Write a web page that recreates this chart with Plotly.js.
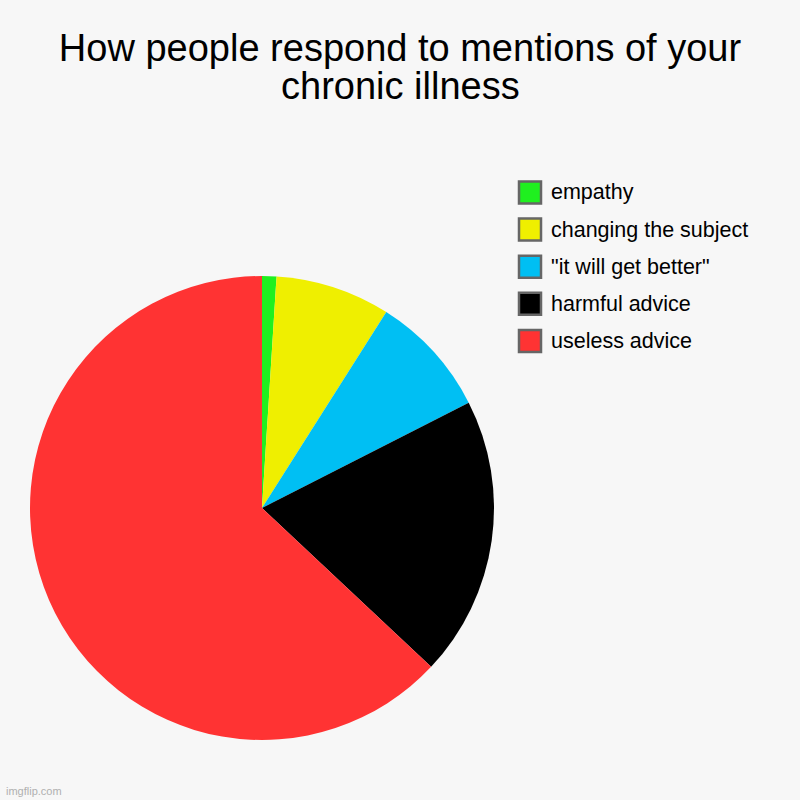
<!DOCTYPE html>
<html>
<head>
<meta charset="utf-8">
<script src="https://cdn.plot.ly/plotly-3.0.1.min.js"></script>
<style>html,body{margin:0;padding:0;background:#f7f7f7;}</style>
</head>
<body>
<div id="chart" style="width:800px;height:800px;"></div>
<script>
const labels = ['empathy', 'changing the subject', '"it will get better"', 'harmful advice', 'useless advice'];
const values = [1, 8, 8.5, 19.5, 63];
const colors = ['#1FF01F', '#EFEF00', '#00BFF3', '#000000', '#FF3333'];
const titleLine1 = 'How people respond to mentions of your';
const titleLine2 = 'chronic illness';

const W = 800, H = 800;
const px = x => x / W;
const py = y => 1 - y / H;
const FONT = 'Liberation Sans, Arial, sans-serif';

const shapes = [];
const annotations = [];
const legendTop = 192.5, legendStep = 37.1;
labels.forEach((lab, i) => {
  const cy = legendTop + i * legendStep;
  shapes.push({
    type: 'rect', xref: 'paper', yref: 'paper',
    x0: px(519), x1: px(541), y0: py(cy - 11), y1: py(cy + 11),
    fillcolor: colors[i], line: {color: '#666666', width: 2.5}
  });
  annotations.push({
    xref: 'paper', yref: 'paper', x: px(549), y: py(cy),
    xanchor: 'left', yanchor: 'middle', showarrow: false,
    text: lab, font: {family: FONT, size: 21.5, color: '#000'}
  });
});
annotations.push({
  xref: 'paper', yref: 'paper', x: 0.5, y: py(86),
  xanchor: 'center', yanchor: 'middle', showarrow: false,
  text: titleLine2, font: {family: FONT, size: 38, color: '#000'}
});
annotations.push({
  xref: 'paper', yref: 'paper', x: px(4), y: py(791),
  xanchor: 'left', yanchor: 'middle', showarrow: false,
  text: 'imgflip.com', font: {family: FONT, size: 11, color: '#b0b0b0'}
});

const trace = {
  type: 'pie',
  labels: labels,
  values: values,
  marker: {colors: colors, line: {width: 0}},
  sort: false,
  direction: 'clockwise',
  rotation: 0,
  textinfo: 'none',
  hoverinfo: 'label+percent',
  domain: {x: [px(30), px(494)], y: [py(740), py(276)]},
  showlegend: false
};

const layout = {
  width: W, height: H,
  margin: {l: 0, r: 0, t: 0, b: 0},
  paper_bgcolor: '#f7f7f7',
  plot_bgcolor: '#f7f7f7',
  showlegend: false,
  title: {
    text: titleLine1,
    x: 0.5, xanchor: 'center',
    y: py(47.4), yanchor: 'middle', yref: 'container',
    font: {family: FONT, size: 38, color: '#000'}
  },
  shapes: shapes,
  annotations: annotations
};

Plotly.newPlot('chart', [trace], layout, {displayModeBar: false, staticPlot: true});
</script>
</body>
</html>
